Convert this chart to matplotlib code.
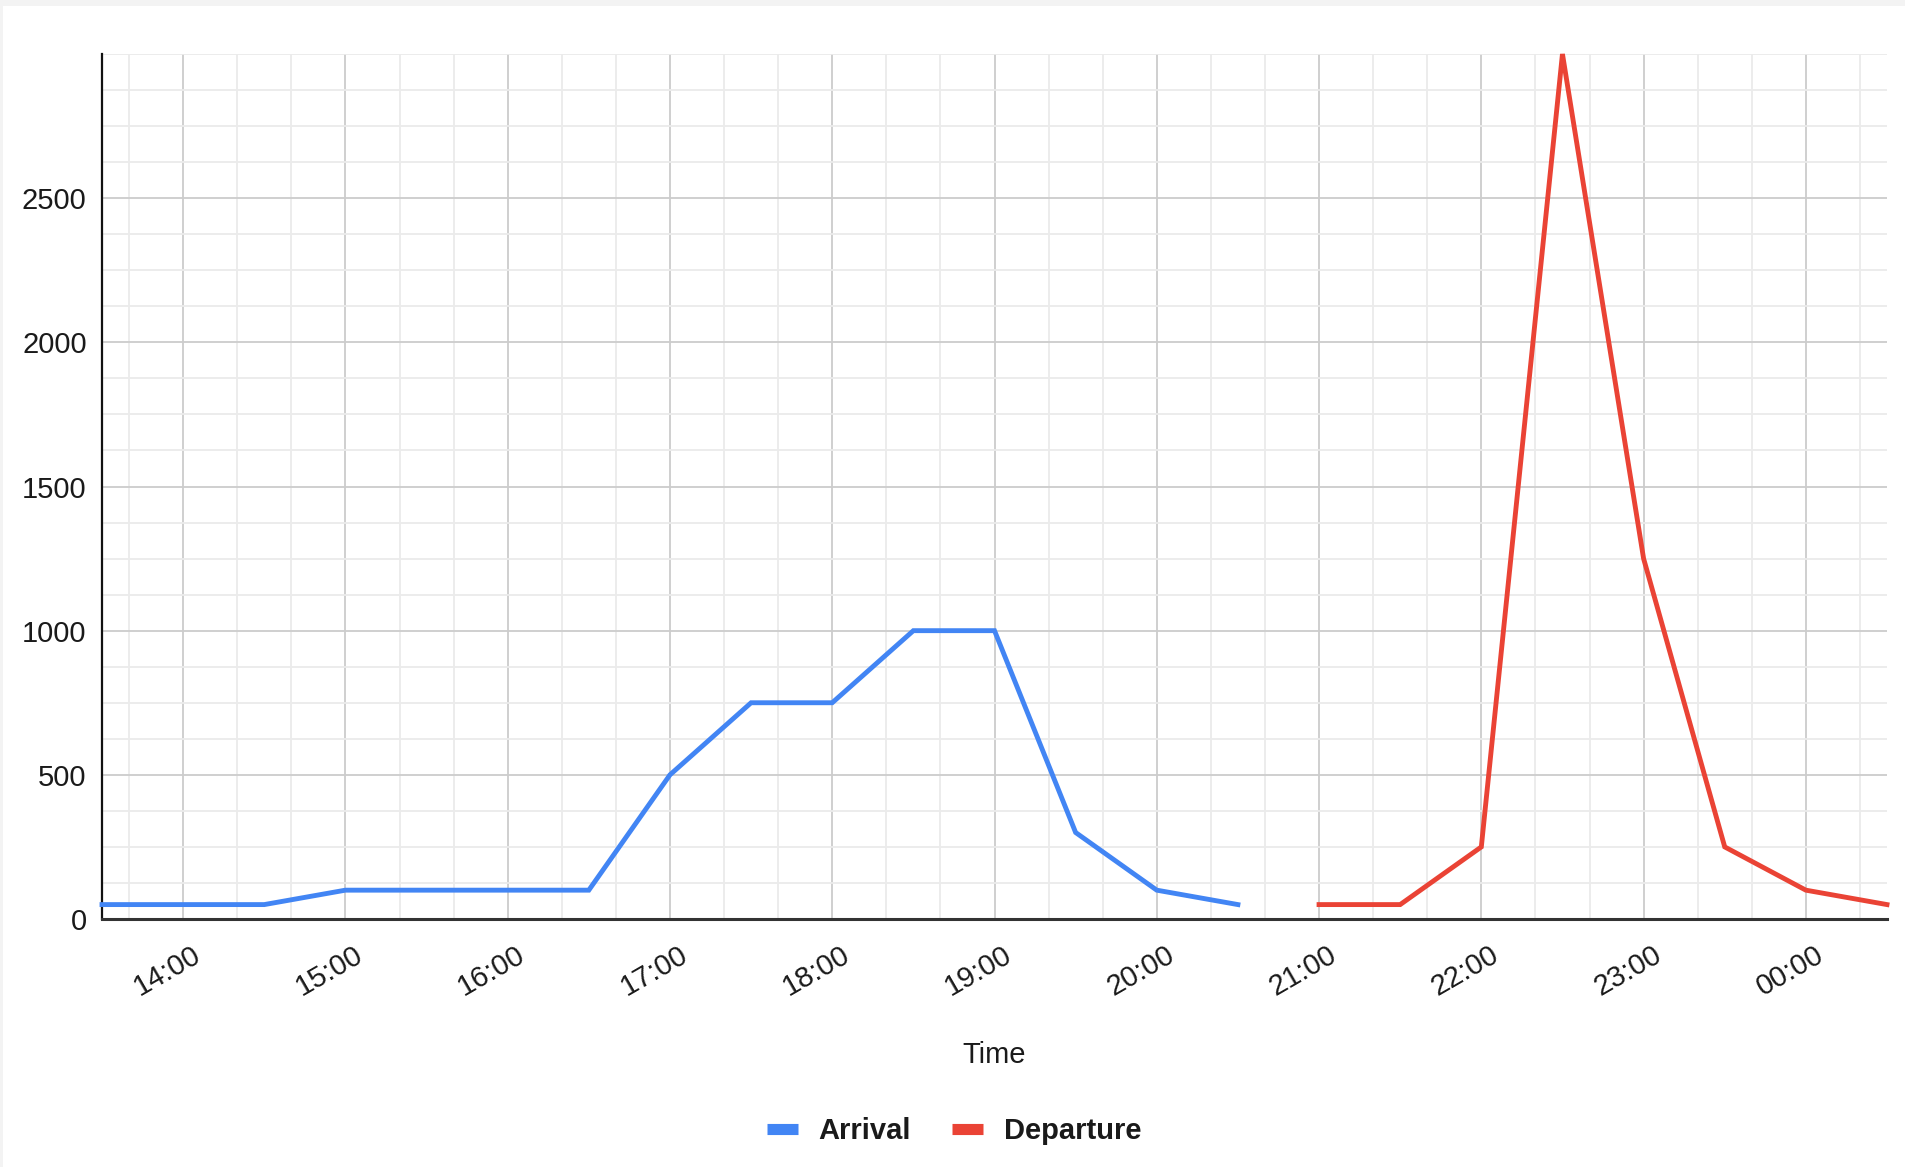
import numpy as np
import matplotlib
matplotlib.use("Agg")
import matplotlib.pyplot as plt
import matplotlib.dates as mdates
from matplotlib.lines import Line2D
from matplotlib.patches import Rectangle
from matplotlib.transforms import ScaledTranslation
from datetime import datetime, timedelta

# ---- data ----
times = ["13:30", "14:00", "14:30", "15:00", "15:30", "16:00", "16:30", "17:00",
         "17:30", "18:00", "18:30", "19:00", "19:30", "20:00", "20:30", "21:00",
         "21:30", "22:00", "22:30", "23:00", "23:30", "00:00", "00:30"]
arrival = [50, 50, 50, 100, 100, 100, 100, 500, 750, 750, 1000, 1000, 300, 100, 50,
           None, None, None, None, None, None, None, None]
departure = [None, None, None, None, None, None, None, None, None, None, None, None,
             None, None, None, 50, 50, 250, 3000, 1250, 250, 100, 50]
series_names = ["Arrival", "Departure"]
x_label = "Time"
y_ticks = [0, 500, 1000, 1500, 2000, 2500]

# build datetimes (roll over past midnight)
base = datetime(2024, 1, 1)
dts = []
prev = None
day = 0
for t in times:
    h, m = map(int, t.split(":"))
    d = base + timedelta(days=day, hours=h, minutes=m)
    if prev is not None and d < prev:
        day += 1
        d = d + timedelta(days=1)
    dts.append(d)
    prev = d

arr = np.array([np.nan if v is None else v for v in arrival], dtype=float)
dep = np.array([np.nan if v is None else v for v in departure], dtype=float)

BLUE = "#4285F4"
RED = "#EA4335"
TXT = "#1a1a1a"
FS = 21

plt.rcParams['font.family'] = ['Liberation Sans', 'DejaVu Sans']

W, H = 1905, 1167
fig = plt.figure(figsize=(W / 100, H / 100), dpi=100)
fig.patch.set_facecolor("#f3f3f3")
fig.patches.append(Rectangle((3 / W, 0), 1, 1 - 6 / H, transform=fig.transFigure,
                             facecolor="white", edgecolor="none", zorder=-10))

left, right, top, bottom = 102, 1887, 54, 919
ax = fig.add_axes([left / W, 1 - bottom / H, (right - left) / W, (bottom - top) / H])
ax.set_zorder(1)
ax.set_facecolor("white")

ax.plot(dts, arr, color=BLUE, lw=3.5, solid_joinstyle="miter", zorder=5, clip_on=False)
ax.plot(dts, dep, color=RED, lw=3.5, solid_joinstyle="miter", zorder=5, clip_on=False)

ax.set_xlim(dts[0], dts[-1])
ax.set_ylim(0, 3000)

ax.xaxis.set_major_locator(mdates.HourLocator())
ax.xaxis.set_major_formatter(mdates.DateFormatter("%H:%M"))
ax.xaxis.set_minor_locator(mdates.MinuteLocator(byminute=[20, 40]))
ax.set_yticks(y_ticks)
ax.yaxis.set_minor_locator(matplotlib.ticker.MultipleLocator(125))

ax.grid(which="major", color="#cccccc", lw=1.3, zorder=1)
ax.grid(which="minor", color="#ebebeb", lw=1.3, zorder=0.9)
ax.set_axisbelow(True)

for s in ["top", "right"]:
    ax.spines[s].set_visible(False)
ax.spines["left"].set_color("#111111")
ax.spines["left"].set_linewidth(1.6)
ax.spines["bottom"].set_color("#333333")
ax.spines["bottom"].set_linewidth(2.2)

ax.tick_params(axis="both", which="both", length=0)
ax.tick_params(axis="y", pad=11, labelsize=FS, labelcolor=TXT)
ax.tick_params(axis="x", pad=37.5, labelsize=FS, labelcolor=TXT)

for lab in ax.get_xticklabels():
    lab.set_rotation(30)
    lab.set_ha("center")
    lab.set_va("center")
    lab.set_rotation_mode("anchor")
    lab.set_transform(lab.get_transform() + ScaledTranslation(-0.16, 0, fig.dpi_scale_trans))

ax.set_xlabel(x_label, fontsize=FS, color=TXT)
ax.xaxis.label.set_va("center")
ax.xaxis.set_label_coords(0.5, (bottom - 1055) / (bottom - top))

handles = [Line2D([], [], color=BLUE, lw=8, solid_capstyle="butt"),
           Line2D([], [], color=RED, lw=8, solid_capstyle="butt")]
leg = fig.legend(handles, series_names, loc="center", ncol=2,
                 bbox_to_anchor=(954 / W, 1 - 1131 / H),
                 frameon=False, handlelength=1.06, handletextpad=0.72,
                 columnspacing=1.4, prop={"weight": "bold", "size": FS})
for t in leg.get_texts():
    t.set_color(TXT)

fig.savefig("out.png", dpi=100, facecolor=fig.get_facecolor())
